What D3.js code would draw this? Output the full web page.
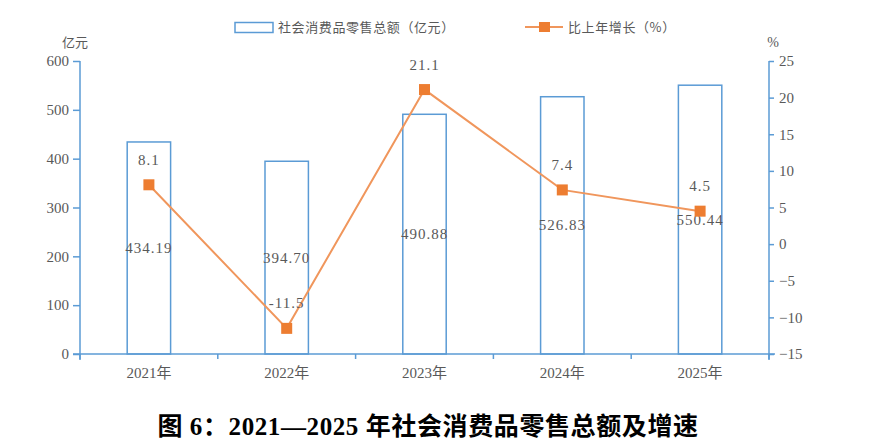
<!DOCTYPE html>
<html><head><meta charset="utf-8">
<script src="https://cdn.jsdelivr.net/npm/d3@7"></script>
<style>
body{margin:0;background:#fff;}
svg{display:block;}
</style></head>
<body>
<script>
const years = ["2021年","2022年","2023年","2024年","2025年"];
const sales = [434.19, 394.70, 490.88, 526.83, 550.44];
const growth = [8.1, -11.5, 21.1, 7.4, 4.5];
const leftTicks = [0,100,200,300,400,500,600];
const rightTicks = [-15,-10,-5,0,5,10,15,20,25];
const salesLabel = "社会消费品零售总额（亿元）";
const growthLabel = "比上年增长（%）";
const title = "图 6：2021—2025 年社会消费品零售总额及增速";

const W=884,H=448;
const blue="#5B9BD5", orange="#ED7D31", lineOrange="#F0965C", txt="#595959";
const pL=80,pR=769,pT=61,pB=354;
const svg=d3.select("body").append("svg").attr("width",W).attr("height",H);

const x=d3.scaleBand().domain(years).range([pL,pR]).padding(0);
const yL=d3.scaleLinear().domain([0,600]).range([pB,pT]);
const yR=d3.scaleLinear().domain([-15,25]).range([pB,pT]);
const serif="'Liberation Serif','Times New Roman',serif";

// bars
const bw=x.bandwidth()*0.315;
svg.append("g").selectAll("rect").data(sales).join("rect")
 .attr("x",(d,i)=>x(years[i])+x.bandwidth()/2-bw/2)
 .attr("y",d=>yL(d)).attr("width",bw).attr("height",d=>yL(0)-yL(d))
 .attr("fill","#fff").attr("stroke",blue).attr("stroke-width",1.5);

function styleAxis(g){
  g.selectAll("path,line").attr("stroke",blue).attr("stroke-width",1.5);
  g.selectAll("text").attr("fill",txt).attr("font-family",serif).attr("font-size",15);
}
// x axis
const ax=svg.append("g").attr("transform",`translate(0,${pB})`)
 .call(d3.axisBottom(x).tickSize(0).tickFormat(()=>""));
ax.selectAll(".tick").remove();
ax.selectAll("line.cat").data(d3.range(years.length+1)).join("line").attr("class","cat")
 .attr("x1",i=>pL+i*x.bandwidth()).attr("x2",i=>pL+i*x.bandwidth())
 .attr("y1",0).attr("y2",5);
ax.call(styleAxis);
ax.select("path").attr("d",`M${pL-7},0H${pR+6}`);
svg.append("g").selectAll("text").data(years).join("text")
 .attr("x",d=>x(d)+x.bandwidth()/2).attr("y",pB+24)
 .attr("text-anchor","middle").attr("fill",txt).attr("font-family",serif+",'Noto Sans CJK SC'").attr("font-size",15)
 .text(d=>d);

const al=svg.append("g").attr("transform",`translate(${pL},0)`)
 .call(d3.axisLeft(yL).tickValues(leftTicks).tickSize(7).tickSizeOuter(0).tickPadding(4));
al.call(styleAxis);
al.select("path").attr("d",`M0,${pT}V${pB+6}`);
const ar=svg.append("g").attr("transform",`translate(${pR},0)`)
 .call(d3.axisRight(yR).tickValues(rightTicks).tickSize(5).tickSizeOuter(0).tickPadding(5).tickFormat(d=>d<0?"\u2212"+Math.abs(d):d));
ar.call(styleAxis);
ar.select("path").attr("d",`M0,${pT}V${pB+6}`);

svg.append("text").attr("x",75).attr("y",47).attr("text-anchor","middle")
 .attr("font-family","'Noto Sans CJK SC'").attr("font-size",13).attr("fill",txt).text("亿元");
svg.append("text").attr("x",773).attr("y",47).attr("text-anchor","middle")
 .attr("font-family",serif).attr("font-size",14).attr("fill",txt).text("%");

// bar labels
svg.append("g").selectAll("text").data(sales).join("text")
 .attr("x",(d,i)=>x(years[i])+x.bandwidth()/2)
 .attr("y",d=>(yL(d)+yL(0))/2+5)
 .attr("text-anchor","middle").attr("font-family",serif).attr("font-size",15)
 .attr("letter-spacing",1).attr("fill",txt).text(d=>d.toFixed(2));

// line
const cx=i=>x(years[i])+x.bandwidth()/2;
svg.append("path").datum(growth)
 .attr("d",d3.line().x((d,i)=>cx(i)).y(d=>yR(d)))
 .attr("fill","none").attr("stroke",lineOrange).attr("stroke-width",2);
svg.append("g").selectAll("rect").data(growth).join("rect")
 .attr("x",(d,i)=>cx(i)-5.5).attr("y",d=>yR(d)-5.5).attr("width",11).attr("height",11)
 .attr("fill",orange);
svg.append("g").selectAll("text").data(growth).join("text")
 .attr("x",(d,i)=>cx(i)).attr("y",d=>yR(d)-20)
 .attr("text-anchor","middle").attr("font-family",serif).attr("font-size",15)
 .attr("letter-spacing",1).attr("fill",txt).text(d=>d.toFixed(1));

// legend
svg.append("rect").attr("x",235).attr("y",22.5).attr("width",38).attr("height",10)
 .attr("fill","#fff").attr("stroke",blue).attr("stroke-width",1.5);
svg.append("text").attr("x",278).attr("y",32).attr("font-family","'Noto Sans CJK SC'")
 .attr("font-size",13).attr("letter-spacing",0.6).attr("fill",txt).text(salesLabel);
svg.append("line").attr("x1",525).attr("x2",563).attr("y1",27).attr("y2",27)
 .attr("stroke",lineOrange).attr("stroke-width",2);
svg.append("rect").attr("x",539).attr("y",22).attr("width",11).attr("height",10).attr("fill",orange);
svg.append("text").attr("x",568).attr("y",32).attr("font-family","'Noto Sans CJK SC'")
 .attr("font-size",13).attr("letter-spacing",0.6).attr("fill",txt).text(growthLabel);

// title
svg.append("text").attr("x",428).attr("y",435).attr("text-anchor","middle")
 .attr("font-family","'Liberation Serif','Noto Sans CJK SC'").attr("font-weight","bold")
 .attr("font-size",25).attr("letter-spacing",0.6).attr("fill","#000").text(title);
</script>
</body></html>
